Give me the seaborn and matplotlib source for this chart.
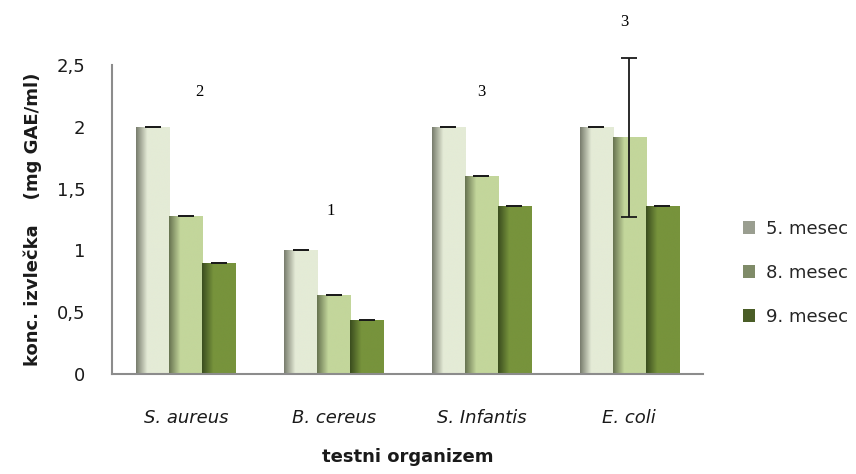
import numpy as np
import pandas as pd
import matplotlib
matplotlib.use("Agg")
import matplotlib.pyplot as plt
import seaborn as sns
from matplotlib.colors import LinearSegmentedColormap
from matplotlib.patches import Patch

# ---- data ----
categories = ["S. aureus", "B. cereus", "S. Infantis", "E. coli"]
series = ["5. mesec", "8. mesec", "9. mesec"]
m5 = [2.0, 1.0, 2.0, 2.0]
m8 = [1.28, 0.64, 1.60, 1.915]
m9 = [0.90, 0.44, 1.36, 1.36]
err5 = [0.0, 0.0, 0.0, 0.0]
err8 = [0.0, 0.0, 0.0, 0.645]
err9 = [0.0, 0.0, 0.0, 0.0]
yticks = [0, 0.5, 1, 1.5, 2, 2.5]
ytick_labels = ["0", "0,5", "1", "1,5", "2", "2,5"]
annot_text = ["2", "1", "3", "3"]
annot_x = [0.09, -0.02, 0.0, -0.03]
annot_y = [2.28, 1.32, 2.28, 2.85]

body_colors = ["#E4EBD6", "#C3D69B", "#77933C"]
edge_colors = ["#777B6C", "#66724F", "#3A4C1E"]
legend_colors = ["#9A9E90", "#7F8B68", "#4A5D27"]

df = pd.DataFrame({
    "org": categories * 3,
    "mesec": [series[0]] * 4 + [series[1]] * 4 + [series[2]] * 4,
    "val": m5 + m8 + m9,
})
errs = [err5, err8, err9]

sns.set_theme(style="white")
plt.rcParams["font.family"] = ["DejaVu Sans"]

fig = plt.figure(figsize=(8.56, 4.74), dpi=100)
ax = fig.add_axes([0.1308, 0.211, 0.6905, 0.6518])

sns.barplot(data=df, x="org", y="val", hue="mesec", order=categories,
            hue_order=series, palette=body_colors, errorbar=None,
            width=0.67, gap=0, linewidth=0, saturation=1, ax=ax, legend=False)

bar_containers = list(ax.containers)

# gradient shading on bars + error bars
for i, cont in enumerate(bar_containers):
    cmap = LinearSegmentedColormap.from_list(
        f"g{i}", [edge_colors[i], body_colors[i], body_colors[i], body_colors[i]])
    grad = np.linspace(0, 1, 256).reshape(1, -1)
    xs, ys = [], []
    for bar in cont.patches:
        x0, y0 = bar.get_x(), bar.get_y()
        w, h = bar.get_width(), bar.get_height()
        im = ax.imshow(grad, cmap=cmap, aspect="auto",
                       extent=(x0, x0 + w, y0, y0 + h), zorder=2,
                       interpolation="bilinear")
        im.set_clip_path(bar)
        xs.append(x0 + w / 2)
        ys.append(y0 + h)
    eb = ax.errorbar(xs, ys, yerr=errs[i], fmt="none", ecolor="#1a1a1a",
                     elinewidth=1.3, capsize=6, capthick=1.3, zorder=4)
    for art in eb.lines[1] + eb.lines[2]:
        art.set_clip_on(False)

ax.set_ylim(0, 2.5)
ax.set_xlim(-0.5, len(categories) - 0.5)

# annotations
for k, t in enumerate(annot_text):
    ax.text(k + annot_x[k], annot_y[k], t, ha="center", va="center",
            fontsize=12, family="Liberation Serif", color="black",
            clip_on=False)

ax.set_yticks(yticks)
ax.set_yticklabels(ytick_labels, fontsize=13, color="#1a1a1a")
ax.set_xticks(range(len(categories)))
ax.set_xticklabels(categories, fontsize=13, style="italic", color="#1a1a1a")
ax.tick_params(axis="x", length=0, pad=25)
ax.tick_params(axis="y", length=0, pad=19)

ax.set_xlabel("testni organizem", fontsize=13, fontweight="bold",
              labelpad=15, color="#1a1a1a")
ax.set_ylabel("konc. izvlečka    (mg GAE/ml)", fontsize=13,
              fontweight="bold", labelpad=11, color="#1a1a1a")

for s in ["top", "right"]:
    ax.spines[s].set_visible(False)
for s in ["left", "bottom"]:
    ax.spines[s].set_color("#8C8C8C")
    ax.spines[s].set_linewidth(1.5)

handles = [Patch(facecolor=c, edgecolor="none") for c in legend_colors]
ax.legend(handles, series, loc="center left", bbox_to_anchor=(1.055, 0.327),
          frameon=False, fontsize=13, handlelength=0.7, handleheight=0.7,
          handletextpad=0.6, labelspacing=1.45, borderaxespad=0)

fig.savefig("out.png", dpi=100)
